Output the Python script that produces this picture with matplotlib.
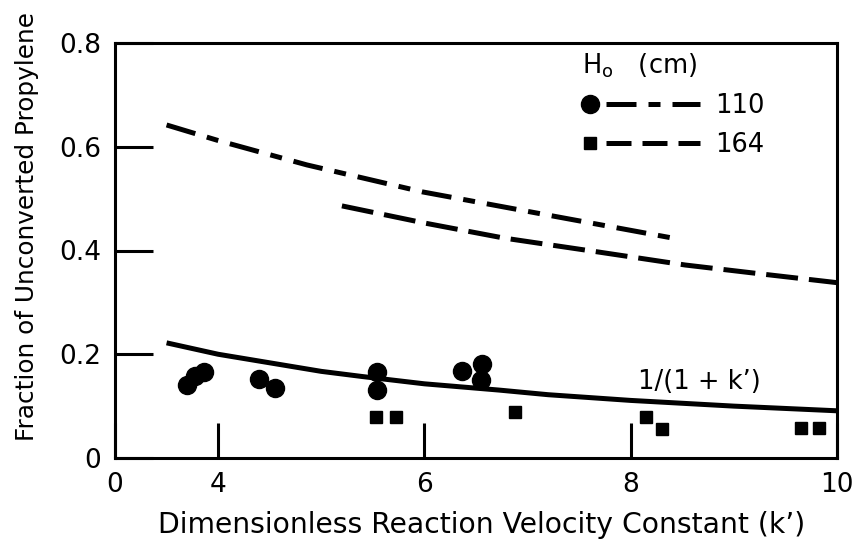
import matplotlib
matplotlib.use("Agg")
import matplotlib.pyplot as plt
from matplotlib.lines import Line2D
from matplotlib.legend_handler import HandlerBase

plt.rcParams['font.family'] = ['DejaVu Sans']
plt.rcParams['mathtext.fontset'] = 'dejavusans'

# ---- data ----
# H0 = 110 cm : measured points (circles) and model curve (dash-dot)
k_110 = [3.70, 3.78, 3.86, 4.40, 4.55, 5.54, 5.54, 6.36, 6.56, 6.55]
f_110 = [0.140, 0.158, 0.166, 0.153, 0.135, 0.166, 0.131, 0.168, 0.181, 0.150]
k_curve_110 = [3.5, 4.0, 4.86, 5.98, 7.04, 8.46]
f_curve_110 = [0.642, 0.612, 0.565, 0.513, 0.474, 0.422]

# H0 = 164 cm : measured points (squares) and model curve (dashed)
k_164 = [5.53, 5.72, 6.88, 8.15, 8.30, 9.65, 9.83]
f_164 = [0.079, 0.080, 0.089, 0.079, 0.055, 0.058, 0.057]
k_curve_164 = [5.2, 6.0, 6.77, 7.69, 8.53, 9.3, 10.0]
f_curve_164 = [0.486, 0.453, 0.424, 0.397, 0.372, 0.354, 0.338]

# ideal CSTR line 1/(1+k')
k_cstr = [3.5, 4.0, 5.0, 5.4, 6.0, 6.72, 7.2, 8.0, 9.0, 10.0]
f_cstr = [0.222, 0.200, 0.167, 0.157, 0.143, 0.131, 0.122, 0.111, 0.100, 0.091]

x_ticks = [3, 4, 6, 8, 10]
x_ticklabels = ['0', '4', '6', '8', '10']
y_ticks = [0, 0.2, 0.4, 0.6, 0.8]
y_ticklabels = ['0', '0.2', '0.4', '0.6', '0.8']

labels_legend = ['110', '164']

fig = plt.figure(figsize=(8.56, 5.48), dpi=100)
ax = fig.add_axes([115/856, 1 - 458/548, (837-115)/856, (458-43)/548])

lw = 3.6
dashdot = (0, (6.0, 2.4, 2.4, 2.4))
dashed = (0, (6.4, 2.2))

ax.plot(k_curve_110, f_curve_110, color='black', lw=lw, linestyle=dashdot,
        dash_capstyle='butt')
ax.plot(k_curve_164, f_curve_164, color='black', lw=lw, linestyle=dashed,
        dash_capstyle='butt')
ax.plot(k_cstr, f_cstr, color='black', lw=lw, solid_capstyle='butt')

ax.plot(k_110, f_110, linestyle='none', marker='o', markersize=13,
        color='black', zorder=5)
ax.plot(k_164, f_164, linestyle='none', marker='s', markersize=8.5,
        color='black', zorder=5)

ax.text(8.07, 0.146, "1/(1 + k’)", fontsize=18.5, ha='left', va='center')

ax.set_xlim(3, 10)
ax.set_ylim(0, 0.8)
ax.set_xticks(x_ticks)
ax.set_xticklabels(x_ticklabels)
ax.set_yticks(y_ticks)
ax.set_yticklabels(y_ticklabels)
ax.tick_params(axis='both', direction='in', width=2.2, labelsize=19,
               color='black')
ax.tick_params(axis='x', length=25, pad=10)
ax.tick_params(axis='y', length=27, pad=10)
for s in ax.spines.values():
    s.set_linewidth(2.2)

ax.set_xlabel("Dimensionless Reaction Velocity Constant (k’)", fontsize=20.3)
ax.xaxis.set_label_coords(0.508, -0.128)
ax.set_ylabel("Fraction of Unconverted Propylene", fontsize=17.8)
ax.yaxis.set_label_coords(-0.105, 0.559)


class MarkerThenLine(HandlerBase):
    def create_artists(self, legend, orig_handle, xdescent, ydescent,
                       width, height, fontsize, trans):
        marker, ls, ms = orig_handle
        y = height / 2 - ydescent
        x0 = -xdescent
        m = Line2D([x0 + 6], [y], marker=marker, markersize=ms,
                   color='black', linestyle='none')
        ln = Line2D([x0 + 17, x0 + width], [y, y], color='black', lw=lw,
                    linestyle=ls, dash_capstyle='butt')
        m.set_transform(trans)
        ln.set_transform(trans)
        return [ln, m]


handles = [('o', (0, (6.0, 2.4, 2.4, 2.4)), 13), ('s', (0, (5.0, 2.2)), 8)]
leg = ax.legend(handles, labels_legend, handler_map={tuple: MarkerThenLine()},
                title="H$_\\mathrm{o}$   (cm)", title_fontsize=18.5,
                fontsize=18.5, frameon=False, loc='upper left',
                bbox_to_anchor=(582/856, 1 - 52/548),
                bbox_transform=fig.transFigure, handlelength=4.6,
                handletextpad=0.6, labelspacing=0.5, borderpad=0,
                borderaxespad=0, alignment='left')

fig.savefig("out.png", dpi=100)
